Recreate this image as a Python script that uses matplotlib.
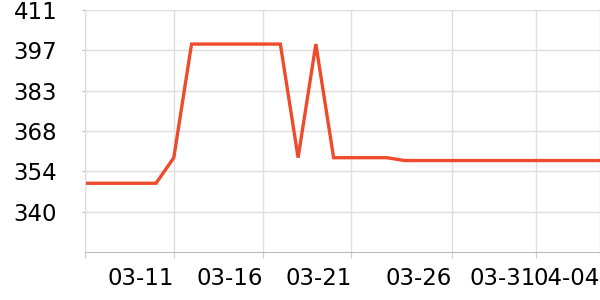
import numpy as np
import pandas as pd
from matplotlib import pyplot as plt
import matplotlib.dates as mdates

# daily values, 03-06 .. 04-04
dates = pd.date_range('2024-03-06', '2024-04-04', freq='D')
values = [350, 350, 350, 350, 350, 359,
          399, 399, 399, 399, 399, 399,
          359, 399,
          359, 359, 359, 359,
          358, 358, 358, 358, 358, 358, 358, 358, 358, 358, 358, 358]

y_ticks = [340, 354.2, 368.4, 382.6, 396.8, 411]
y_labels = ['340', '354', '368', '383', '397', '411']
x_ticks = ['2024-03-06 00:00', '2024-03-11 00:00', '2024-03-16 00:00', '2024-03-21 00:00',
           '2024-03-26 16:00', '2024-03-31 10:00', '2024-04-04 00:00']
x_labels = ['', '03-11', '03-16', '03-21', '03-26', '03-31', '04-04']

fig = plt.figure(figsize=(6, 3), dpi=100)
ax = fig.add_axes([85 / 600, 48 / 300, 515 / 600, 242 / 300])

ax.plot(dates, values, color='#ef4a2b', linewidth=2.4, solid_joinstyle='miter')

ax.set_xlim(dates[0], dates[-1])
ax.set_ylim(325.8, 411)
ax.set_yticks(y_ticks)
ax.set_yticklabels(y_labels)
ax.set_xticks(pd.to_datetime(x_ticks, format='%Y-%m-%d %H:%M'))
ax.set_xticklabels(x_labels, ha='right')

ax.grid(True, color='#dddddd', linewidth=1)
ax.set_axisbelow(True)
for s in ['top', 'right']:
    ax.spines[s].set_visible(False)
ax.spines['left'].set_color('#dddddd')
ax.spines['bottom'].set_color('#bbbbbb')
ax.tick_params(axis='y', length=2, color='#bbbbbb', labelsize=16.5, pad=18)
ax.tick_params(axis='x', length=4, color='#cccccc', labelsize=16.5, pad=7)

fig.savefig('out.png', dpi=100)
